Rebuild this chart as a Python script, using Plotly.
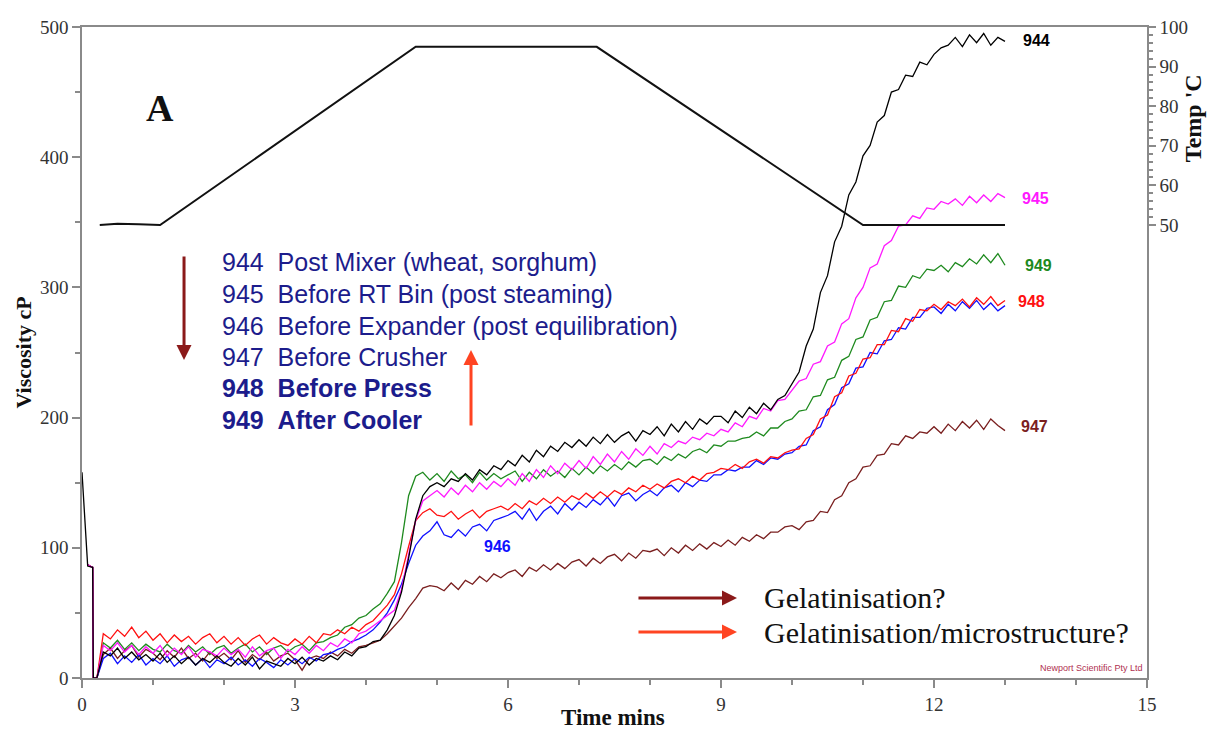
import numpy as np
import plotly.graph_objects as go

# ---------------- data ----------------
t_init = [0.0, 0.08, 0.15, 0.16, 0.21]
init_944 = [158, 86, 85, 0, 0]
init_other = [None, 87, 85, 0, 0]

# sampling grid (minutes) for the main part of each run
t_main = list(np.round(np.arange(0.3, 13.0001, 0.1), 2))

v944 = [20, 17, 23, 15, 20, 14, 18,
        13, 19, 12, 17, 11, 16, 10, 15, 12, 17,
        12, 9, 15, 10, 16, 7, 13, 11, 9, 15,
        11, 16, 10, 15, 13, 17, 14, 20, 17, 23,
        24, 28, 29, 37, 48, 66, 92, 122, 140, 147,
        150, 147, 153, 151, 157, 152, 160, 156, 163, 160,
        167, 163, 171, 166, 175, 170, 178, 174, 181, 177,
        183, 178, 185, 180, 187, 181, 186, 189, 182, 190,
        187, 193, 186, 195, 189, 197, 191, 199, 195, 201,
        201, 196, 205, 200, 208, 203, 211, 206, 214, 217,
        226, 235, 255, 268, 296, 309, 335, 347, 371, 381,
        401, 409, 427, 432, 450, 452, 463, 462, 473, 471,
        479, 484, 486, 492, 485, 494, 488, 495, 486, 492,
        489]

v945 = [25, 21, 27, 20, 25, 18, 24,
        19, 25, 17, 23, 18, 24, 16, 22, 20, 17,
        23, 18, 22, 16, 24, 17, 21, 23, 15, 22,
        18, 24, 19, 25, 21, 27, 24, 30, 27, 34,
        36, 40, 44, 48, 52, 68, 94, 121, 136, 140,
        144, 139, 146, 141, 148, 143, 150, 145, 151, 147,
        153, 148, 157, 151, 160, 154, 163, 157, 165, 160,
        167, 161, 170, 164, 172, 166, 174, 168, 176, 171,
        178, 172, 180, 177, 182, 180, 185, 183, 188, 186,
        191, 189, 196, 193, 201, 199, 207, 205, 213, 214,
        221, 228, 230, 241, 243, 255, 258, 272, 276, 292,
        300, 315, 318, 332, 336, 347, 348, 355, 353, 361,
        360, 366, 364, 368, 363, 370, 365, 371, 366, 372,
        369]

v946 = [15, 19, 11, 17, 12, 18, 10,
        15, 11, 17, 9, 14, 16, 10, 15, 8, 14,
        11, 16, 10, 14, 9, 15, 12, 8, 14, 10,
        15, 11, 16, 13, 18, 19, 22, 24, 28, 30,
        33, 37, 43, 50, 60, 72, 88, 102, 109, 113,
        120, 110, 108, 114, 109, 116, 118, 113, 121, 123,
        125, 128, 122, 130, 121, 128, 132, 126, 134, 129,
        135, 131, 137, 133, 139, 132, 140, 142, 136, 141,
        144, 140, 146, 148, 143, 150, 147, 152, 151, 156,
        156, 160, 159, 162, 162, 167, 164, 169, 168, 172,
        173, 178, 179, 190, 193, 206, 210, 223, 226, 238,
        239, 250, 249, 259, 260, 269, 268, 277, 277, 284,
        285, 280, 287, 282, 289, 284, 290, 283, 288, 282,
        286]

v947 = [18, 23, 15, 21, 25, 16, 22,
        19, 14, 21, 16, 23, 15, 19, 13, 20, 15,
        19, 14, 21, 12, 18, 14, 20, 13, 17, 19,
        14, 6, 15, 17, 15, 20, 17, 22, 19, 24,
        25, 27, 29, 34, 40, 46, 54, 61, 69, 71,
        70, 67, 73, 68, 75, 72, 78, 74, 80, 77,
        81, 83, 78, 85, 82, 87, 83, 88, 84, 89,
        91, 86, 92, 88, 93, 95, 90, 96, 92, 98,
        97, 99, 94, 100, 96, 102, 98, 103, 99, 104,
        101, 106, 102, 108, 105, 110, 107, 112, 112, 116,
        117, 114, 120, 121, 128, 127, 137, 140, 150, 153,
        162, 163, 171, 172, 180, 179, 186, 184, 189, 188,
        193, 188, 195, 190, 197, 192, 198, 191, 199, 194,
        190]

v948 = [34, 30, 37, 32, 39, 31, 36,
        29, 34, 27, 33, 28, 32, 26, 31, 34, 27,
        32, 26, 31, 25, 30, 33, 26, 31, 27, 25,
        30, 26, 32, 27, 34, 33, 37, 34, 39, 36,
        41, 44, 50, 56, 64, 80, 101, 121, 127, 130,
        125, 124, 128, 122, 126, 129, 123, 128, 130, 132,
        129, 134, 130, 136, 133, 138, 134, 139, 135, 140,
        137, 142, 138, 143, 139, 144, 141, 146, 143, 148,
        145, 149, 146, 151, 153, 150, 155, 152, 157, 158,
        161, 160, 164, 161, 166, 168, 165, 170, 169, 173,
        175, 176, 184, 187, 199, 202, 216, 219, 232, 234,
        245, 246, 256, 256, 267, 266, 276, 274, 283, 282,
        287, 283, 289, 286, 291, 285, 292, 287, 293, 286,
        290]

v949 = [27, 23, 29, 22, 27, 21, 26,
        22, 20, 26, 21, 19, 25, 20, 24, 18, 23,
        25, 19, 23, 26, 20, 24, 18, 23, 25, 20,
        24, 26, 21, 27, 28, 31, 33, 39, 41, 46,
        48, 53, 57, 65, 74, 104, 140, 155, 158, 152,
        157, 151, 159, 153, 156, 150, 158, 152, 157, 153,
        156, 159, 151, 158, 153, 160, 155, 159, 154, 161,
        156, 162, 157, 163, 159, 164, 160, 166, 162, 167,
        168, 164, 170, 167, 172, 169, 174, 176, 173, 179,
        178, 182, 182, 184, 185, 189, 186, 192, 192, 197,
        199, 205, 206, 216, 217, 229, 231, 244, 247, 260,
        262, 275, 277, 289, 290, 301, 300, 309, 307, 314,
        313, 317, 312, 319, 316, 322, 318, 325, 319, 326,
        317]

time_temp = [0.25, 0.5, 0.8, 1.1, 4.7, 7.25, 11.0, 13.0]
temp_c = [50.0, 50.3, 50.2, 50.0, 95.0, 95.0, 50.0, 50.0]

series = [
    ("949", v949, "#1e8a1e", init_other),
    ("947", v947, "#7a1f1f", init_other),
    ("946", v946, "#1010ff", init_other),
    ("948", v948, "#ff1010", init_other),
    ("945", v945, "#ff19ff", init_other),
    ("944", v944, "#000000", init_944),
]

legend_lines = [
    ("944\u00a0\u00a0Post Mixer (wheat, sorghum)", False),
    ("945\u00a0\u00a0Before RT Bin (post steaming)", False),
    ("946\u00a0\u00a0Before Expander (post equilibration)", False),
    ("947\u00a0\u00a0Before Crusher", False),
    ("948\u00a0\u00a0Before Press", True),
    ("949\u00a0\u00a0After Cooler", True),
]

# ---------------- figure ----------------
fig = go.Figure()
for name, vals, col, init in series:
    fig.add_trace(go.Scatter(
        x=t_init + t_main, y=init + vals, mode="lines", name=name,
        line=dict(color=col, width=1.3), connectgaps=False, showlegend=False))

fig.add_trace(go.Scatter(x=time_temp, y=temp_c, mode="lines", yaxis="y2",
                         line=dict(color="#111111", width=2), showlegend=False))

SERIF = "Liberation Serif"
SANS = "Liberation Sans"
tickfont = dict(family=SERIF, size=19, color="#333333")
axcol = "#8a8a8a"

fig.update_layout(
    width=1213, height=731,
    margin=dict(l=82, r=66, t=27, b=53),
    font=dict(family=SERIF, size=19, color="#333333"),
    paper_bgcolor="white", plot_bgcolor="white",
    xaxis=dict(range=[0, 15], tickvals=[0, 3, 6, 9, 12, 15], ticks="outside",
               ticklen=8, tickwidth=1.5, tickcolor=axcol,
               minor=dict(dtick=1, tick0=0, ticks="outside", ticklen=5, tickcolor=axcol),
               showline=True, linecolor=axcol, linewidth=1.5, mirror=True,
               showgrid=False, zeroline=False, tickfont=tickfont),
    yaxis=dict(range=[0, 500], dtick=100, ticks="outside", ticklen=8, tickwidth=1.5,
               tickcolor=axcol,
               minor=dict(dtick=50, tick0=0, ticks="outside", ticklen=5, tickcolor=axcol),
               showline=True, linecolor=axcol, linewidth=1.5,
               showgrid=False, zeroline=False, tickfont=tickfont),
    yaxis2=dict(range=[-64.39, 100], overlaying="y", side="right",
                tickmode="array", tickvals=[50, 60, 70, 80, 90, 100],
                ticks="outside", ticklen=7, tickwidth=1.5, tickcolor=axcol,
                minor=dict(tickmode="array", tickvals=list(range(52, 100, 2)),
                           ticks="outside", ticklen=4, tickcolor=axcol),
                showline=True, linecolor=axcol, linewidth=1.5,
                showgrid=False, zeroline=False, tickfont=tickfont),
)

ann = []
# axis titles
ann.append(dict(text="<b>Viscosity cP</b>", xref="paper", yref="paper", x=-0.0545, y=0.5,
                xanchor="center", yanchor="middle", textangle=-90, showarrow=False,
                font=dict(family=SERIF, size=22, color="#111")))
ann.append(dict(text="<b>Time mins</b>", xref="paper", yref="paper", x=0.4985, y=-0.061,
                xanchor="center", yanchor="middle", showarrow=False,
                font=dict(family=SERIF, size=23, color="#111")))
ann.append(dict(text="<b>Temp 'C</b>", xref="paper", yref="paper", x=1.0432, y=0.860,
                xanchor="center", yanchor="middle", textangle=-90, showarrow=False,
                font=dict(family=SERIF, size=24, color="#111")))
# panel letter
ann.append(dict(text="<b>A</b>", x=1.1, y=438, xanchor="center", yanchor="middle",
                showarrow=False, font=dict(family=SERIF, size=38, color="#111")))
# legend block
ys = [319.5, 295, 270.5, 246.5, 222.5, 198]
for (txt, bold), yv in zip(legend_lines, ys):
    ann.append(dict(text=f"<b>{txt}</b>" if bold else txt, x=1.94, y=yv,
                    xanchor="left", yanchor="middle", showarrow=False,
                    font=dict(family=SANS, size=25, color="#1c1c8c")))
# end labels
end_labels = [("944", 13.44, 490, "#000000"), ("945", 13.43, 368, "#ff19ff"),
              ("949", 13.47, 317, "#1e8a1e"), ("948", 13.38, 289, "#ff1010"),
              ("947", 13.41, 193, "#7a1f1f"), ("946", 5.85, 101, "#1010ff")]
for lab, xv, yv, col in end_labels:
    ann.append(dict(text=f"<b>{lab}</b>", x=xv, y=yv, xanchor="center", yanchor="middle",
                    showarrow=False, font=dict(family=SANS, size=16, color=col)))
# arrows
ann.append(dict(x=1.437, y=244.2, ax=0, ay=-105, text="", showarrow=True,
                arrowhead=2, arrowsize=1, arrowwidth=3, arrowcolor="#8b1a1a"))
ann.append(dict(x=5.479, y=251.9, ax=0, ay=77, text="", showarrow=True,
                arrowhead=2, arrowsize=1, arrowwidth=3, arrowcolor="#ff4422"))
ann.append(dict(x=9.225, y=61.4, ax=-100, ay=0, text="", showarrow=True,
                arrowhead=2, arrowsize=1, arrowwidth=3, arrowcolor="#8b1a1a"))
ann.append(dict(x=9.225, y=35.3, ax=-100, ay=0, text="", showarrow=True,
                arrowhead=2, arrowsize=1, arrowwidth=3, arrowcolor="#ff4422"))
ann.append(dict(text="Gelatinisation?", x=9.577, y=62.2, xanchor="left", yanchor="middle",
                showarrow=False, font=dict(family=SERIF, size=30, color="#111")))
ann.append(dict(text="Gelatinisation/microstructure?", x=9.577, y=35.3, xanchor="left",
                yanchor="middle", showarrow=False,
                font=dict(family=SERIF, size=30, color="#111")))
ann.append(dict(text="Newport Scientific Pty Ltd", x=14.97, y=2, xanchor="right",
                yanchor="bottom", showarrow=False,
                font=dict(family=SANS, size=9, color="#b03050")))

fig.update_layout(annotations=ann)
fig.write_html("out.html")
